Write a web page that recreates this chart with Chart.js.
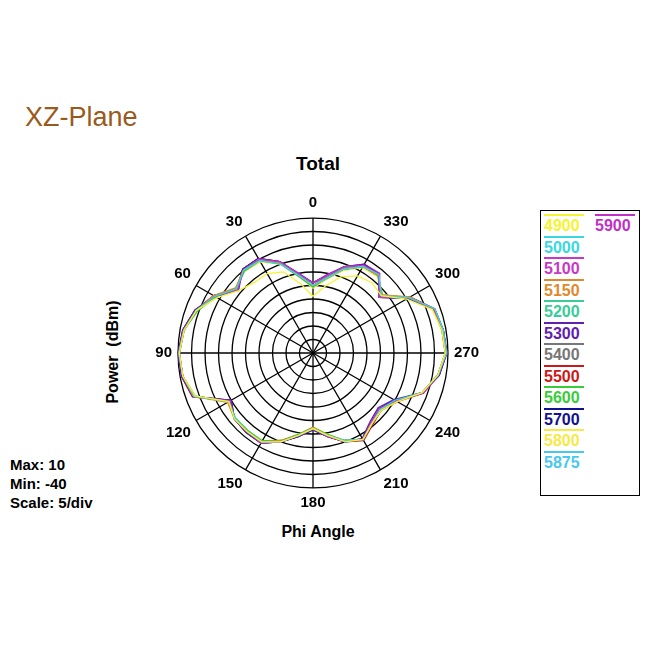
<!DOCTYPE html>
<html>
<head>
<meta charset="utf-8">
<script src="https://cdn.jsdelivr.net/npm/chart.js@4/dist/chart.umd.min.js"></script>
<style>
  body { margin: 0; width: 650px; height: 650px; background: #fff; font-family: Arial, "Liberation Sans", sans-serif; position: relative; overflow: hidden; }
  .abs { position: absolute; }
  #title { left: 25px; top: 102px; font-size: 27px; color: #9a5a1c; }
  #sub { left: 0; width: 636px; top: 153px; text-align: center; font-size: 19px; font-weight: bold; }
  #ylab { left: 113px; top: 352px; font-size: 16px; font-weight: bold; transform: translate(-50%, -50%) rotate(-90deg); white-space: nowrap; }
  #xlab { left: 0; width: 636px; top: 523px; text-align: center; font-size: 16px; font-weight: bold; }
  #info { left: 10px; top: 455px; font-size: 15px; font-weight: bold; line-height: 19px; }
  #wrap { left: 152px; top: 187px; width: 332px; height: 332px; }
  #legend { left: 540px; top: 210px; width: 98px; height: 284px; border: 1px solid #000; }
  .it { position: absolute; font-size: 16px; font-weight: bold; padding-top: 2px; border-top: 2px solid; width: 40px; line-height: 16px; }
</style>
</head>
<body>
<div id="title" class="abs">XZ-Plane</div>
<div id="sub" class="abs">Total</div>
<div id="ylab" class="abs">Power&nbsp; (dBm)</div>
<div id="xlab" class="abs">Phi Angle</div>
<div id="info" class="abs">Max: 10<br>Min: -40<br>Scale: 5/div</div>
<div id="wrap" class="abs"><canvas id="c"></canvas></div>
<div id="legend" class="abs"></div>
<script>
// angles listed clockwise from the top (plot runs counter-clockwise)
const angles = [0,350,340,330,320,310,300,290,280,270,260,250,240,230,220,210,200,190,180,170,160,150,140,130,120,110,100,90,80,70,60,50,40,30,20,10];
const freqs = ['4900','5000','5100','5150','5200','5300','5400','5500','5600','5700','5800','5875','5900'];
const colors = ['#f4f430','#38d8e0','#c838c8','#e0892c','#38cc98','#6020b0','#777777','#cc1818','#38cc38','#101090','#f8e848','#48c8ee','#c030c8'];

const s4900 = [-19,-15,-10,-7,-6,-7,0,7,8.5,9,7,3,-4,-7,-6,-3,-5,-9,-12,-9,-5,-2,-2,-2,-4,6.5,9,9.5,8.5,6,1,-4,-6,-6,-8,-14];
const s5000 = [-15,-12,-7,-3,-2,-7,1,8,9,9.5,7,3,-5,-7.5,-6,-3,-5.5,-9,-12,-9,-5,-2,-2,-2.5,-4,7,9,9.7,8.5,6,2,-3,0,-0.5,-5,-11];
const s5100 = [-14,-11,-6,-2.5,-2,-8,1,7.5,9,9.5,7,3.5,-4.5,-8,-6.5,-3,-5,-8.5,-12,-9,-5,-1.5,-2,-2,-4.5,7,9,9.5,8.5,6,2,-3.5,0,0,-4,-10.5];
const s5150 = [-15,-12,-7,-3,-2.5,-6.5,1.5,7.5,8.5,9,7,3,-4,-7,-6,-3,-5.5,-9,-12.5,-9,-5.5,-2,-2,-2,-3.5,7,9,9.7,8.7,6,2.5,-2.5,0,0,-4.5,-11];
const s5200 = [-15,-11.5,-6.5,-3,-2.5,-7,1,7.7,8.8,9.2,7.2,3,-4.5,-7.5,-6,-3,-5.5,-9,-12,-9,-5.4,-2,-2,-2,-4,7,9,9.7,8.6,6,2,-3,0,0,-4.6,-11];
const s5300 = [-14,-11,-6,-2,-2,-8,0.5,7.5,9,9.5,7.5,3,-5.5,-8.5,-7,-3.5,-5,-8.5,-11.5,-8.5,-5,-1.5,-1.5,-2,-5,7,9.5,10,9,6.5,2,-4,0.5,0.5,-4,-10.5];
const s5400 = [-15,-12,-7,-3,-2.5,-7,1,7.5,8.5,9,7,3,-4.5,-7.5,-6,-3,-5.5,-9,-12,-9,-5.5,-2,-2,-2,-4,7,9,9.5,8.5,6,2,-3,0,0,-4.5,-11];
const s5500 = [-15,-11.5,-6.5,-2.5,-2,-7.5,1.5,8,9,9.5,7,3.5,-4,-7,-5.5,-2.5,-5,-9,-12,-9,-5,-2,-1.5,-2,-4.5,7.5,9.5,9.7,8.8,6,2.5,-3,0.5,0,-4.5,-11];
const s5600 = [-15.5,-12,-7,-3,-2.5,-6.5,1,7.5,8.5,9,7,3,-4.5,-7,-6,-3,-5.5,-9.5,-12.5,-9.5,-5.5,-2.5,-2.5,-2.5,-4,6.5,9,9.5,8.5,5.5,1.5,-3,-0.5,-0.5,-5,-11.5];
const s5700 = [-14,-11,-6,-2.5,-2,-8,0.5,7.5,9,9.5,7.5,3,-5,-8,-6.5,-3,-5,-8.5,-11.5,-8.5,-5,-1.5,-1.5,-2,-5,7,9,9.7,9,6.5,2,-3.5,0.5,0.5,-4,-10.5];
const s5800 = [-16,-12.5,-7.5,-3.5,-3,-6.5,1,7.5,8.5,9,7,3,-4,-7,-6,-3,-5.5,-9,-12,-9.5,-5.5,-2,-2,-2,-3.5,6.5,9,9.5,8.5,6,2,-2.5,-0.5,-1,-5,-11.5];
const s5875 = [-15,-11.5,-6.5,-3,-2.5,-7,1,8,9,9.5,7,3,-4.5,-7.5,-6,-3,-5.5,-9,-12,-9,-5,-2,-2,-2,-4,7,9,9.7,8.6,6,2,-3,0,-0.5,-4.5,-11];
const s5900 = [-14,-10.5,-6,-2,-1.5,-8,1,7.5,9,9.7,7.5,3.5,-5,-8,-6.5,-3,-5,-8.5,-12,-8.5,-5,-1.5,-1.5,-2,-5,7.5,9.5,10,9,6.5,2.5,-3.5,0.5,0.5,-4,-10];
const series = [s4900,s5000,s5100,s5150,s5200,s5300,s5400,s5500,s5600,s5700,s5800,s5875,s5900];

// --- legend ---
const legend = document.getElementById('legend');
freqs.forEach((f, i) => {
  const el = document.createElement('div');
  el.className = 'it';
  el.textContent = f;
  el.style.color = colors[i];
  el.style.borderColor = colors[i];
  if (i < 12) { el.style.left = '3px'; el.style.top = (3 + i * 21.5) + 'px'; }
  else { el.style.left = '54px'; el.style.top = '3px'; }
  legend.appendChild(el);
});

new Chart(document.getElementById('c'), {
  type: 'radar',
  data: {
    labels: angles,
    datasets: series.map((d, i) => ({
      label: freqs[i],
      data: d,
      borderColor: colors[i],
      borderWidth: 1.3,
      pointRadius: 0,
      fill: false,
      tension: 0,
    })),
  },
  options: {
    responsive: true,
    maintainAspectRatio: true,
    animation: false,
    layout: { padding: 0 },
    plugins: { legend: { display: false }, tooltip: { enabled: false } },
    scales: {
      r: {
        min: -40,
        max: 10,
        ticks: { stepSize: 5, display: false },
        grid: { circular: true, color: '#000', lineWidth: 1.3 },
        // spokes only every 30 degrees
        angleLines: {
          color: (ctx) => (ctx.index % 3 === 0 ? '#000' : 'rgba(0,0,0,0)'),
          lineWidth: 1.3,
        },
        pointLabels: {
          color: '#000',
          padding: 6,
          font: { family: 'Arial, Liberation Sans', size: 15, weight: 'bold' },
          callback: (v) => (v % 30 === 0 ? String(v) : ''),
        },
      },
    },
  },
});
</script>
</body>
</html>
